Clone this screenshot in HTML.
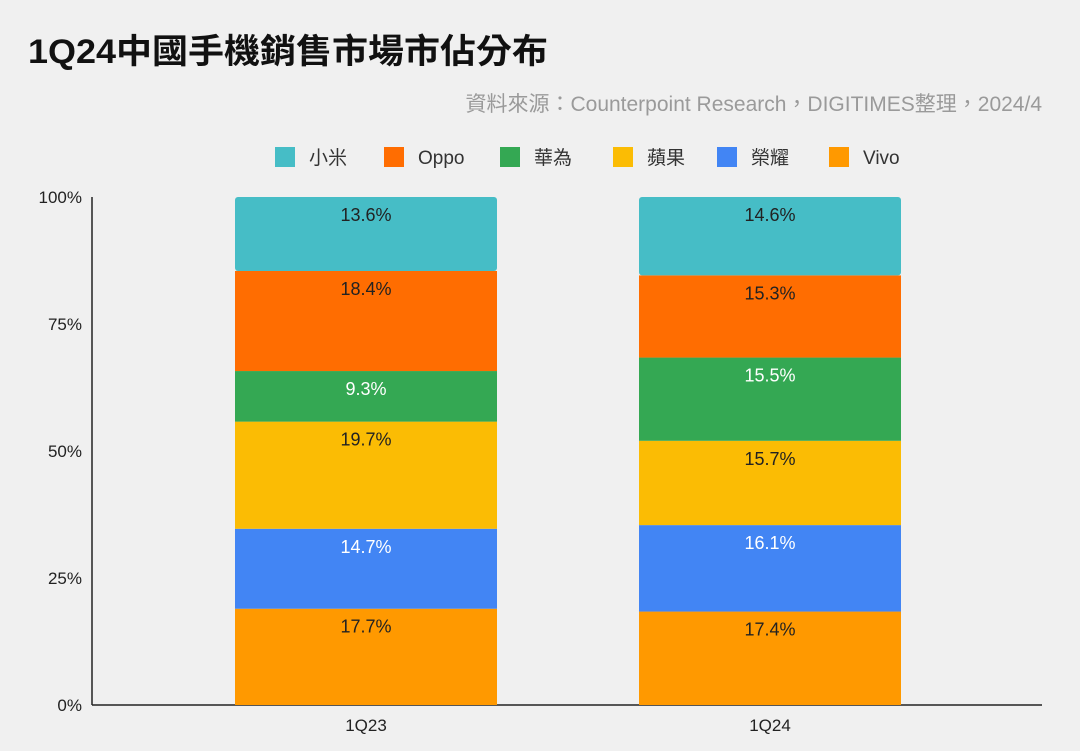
<!DOCTYPE html>
<html><head><meta charset="utf-8"><style>
body{margin:0;background:#f0f0f0;width:1080px;height:751px;overflow:hidden;font-family:"Liberation Sans","Noto Sans CJK TC",sans-serif}
</style></head><body>
<svg width="1080" height="751" style="position:absolute;left:0;top:0">
<text x="28" y="63" font-size="34" font-weight="bold" fill="#111" font-family="Liberation Sans, Noto Sans CJK TC, sans-serif" textLength="520" lengthAdjust="spacingAndGlyphs">1Q24中國手機銷售市場市佔分布</text>
<text x="1042" y="111" text-anchor="end" font-size="21" fill="#9a9a9a" font-family="Liberation Sans, Noto Sans CJK TC, sans-serif">資料來源：Counterpoint Research，DIGITIMES整理，2024/4</text>
<g id="legend"></g>
<g id="axis"></g>
<g id="bars"></g>
</svg>
<script>
const categories=["1Q23","1Q24"];
const seriesNames=["Vivo","榮耀","蘋果","華為","Oppo","小米"];
const vivo=[17.7,17.4];
const honor=[14.7,16.1];
const apple=[19.7,15.7];
const huawei=[9.3,15.5];
const oppo=[18.4,15.3];
const xiaomi=[13.6,14.6];
const yTicks=[0,25,50,75,100];
const legendOrder=["小米","Oppo","華為","蘋果","榮耀","Vivo"];
const series=[vivo,honor,apple,huawei,oppo,xiaomi];
const colors={"小米":"#46bdc6","Oppo":"#ff6d01","華為":"#34a853","蘋果":"#fbbc04","榮耀":"#4285f4","Vivo":"#ff9900"};
const whiteText={"華為":1,"榮耀":1};
const NS="http://www.w3.org/2000/svg";
const y0=705,y1=197,plotL=92,plotR=1042;
const yScale=v=>y0-(v/100)*(y0-y1);
const barW=262;
const firstCenter=366,step=404;
const xCenter=i=>firstCenter+step*i;
function mk(tag,attrs,parent){const e=document.createElementNS(NS,tag);for(const k in attrs)e.setAttribute(k,attrs[k]);parent.appendChild(e);return e;}
const ax=document.getElementById('axis');
yTicks.forEach(t=>{const e=mk('text',{x:82,y:yScale(t)+6,'text-anchor':'end','font-size':17,fill:'#222'},ax);e.textContent=t+'%';

});
let l=mk('line',{x1:plotL,x2:plotL,y1:y1,y2:y0,stroke:'#222','stroke-width':1.5},ax);


l=mk('line',{x1:plotL,x2:plotR,y1:y0,y2:y0,stroke:'#222','stroke-width':1.5},ax);


categories.forEach((c,i)=>{const e=mk('text',{x:xCenter(i),y:731,'text-anchor':'middle','font-size':17,fill:'#222'},ax);e.textContent=c;

});
const bg=document.getElementById('bars');
categories.forEach((c,i)=>{
  const total=series.reduce((s,a)=>s+a[i],0);
  let acc=0;
  series.forEach((arr,k)=>{
    const name=seriesNames[k];
    const v=arr[i]/total*100;
    const top=yScale(acc+v),bot=yScale(acc);
    const r=mk('rect',{x:xCenter(i)-barW/2,y:top,width:barW,height:bot-top,fill:colors[name],rx:(k===series.length-1?3:0)},bg);
    
    
    const t=mk('text',{x:xCenter(i),y:top+24,'text-anchor':'middle','font-size':18,fill:whiteText[name]?'#fff':'#222'},bg);
    t.textContent=arr[i].toFixed(1)+'%';
    
    
    acc+=v;
  });
});
const lg=document.getElementById('legend');
const lx=[275,384,500,613,717,829];
legendOrder.forEach((n,i)=>{
  const r=mk('rect',{x:lx[i],y:147,width:20,height:20,fill:colors[n]},lg);
  
  
  const t=mk('text',{x:lx[i]+34,y:164,'font-size':19,fill:'#333'},lg);
  t.textContent=n;
  
  
});
</script>
</body></html>
